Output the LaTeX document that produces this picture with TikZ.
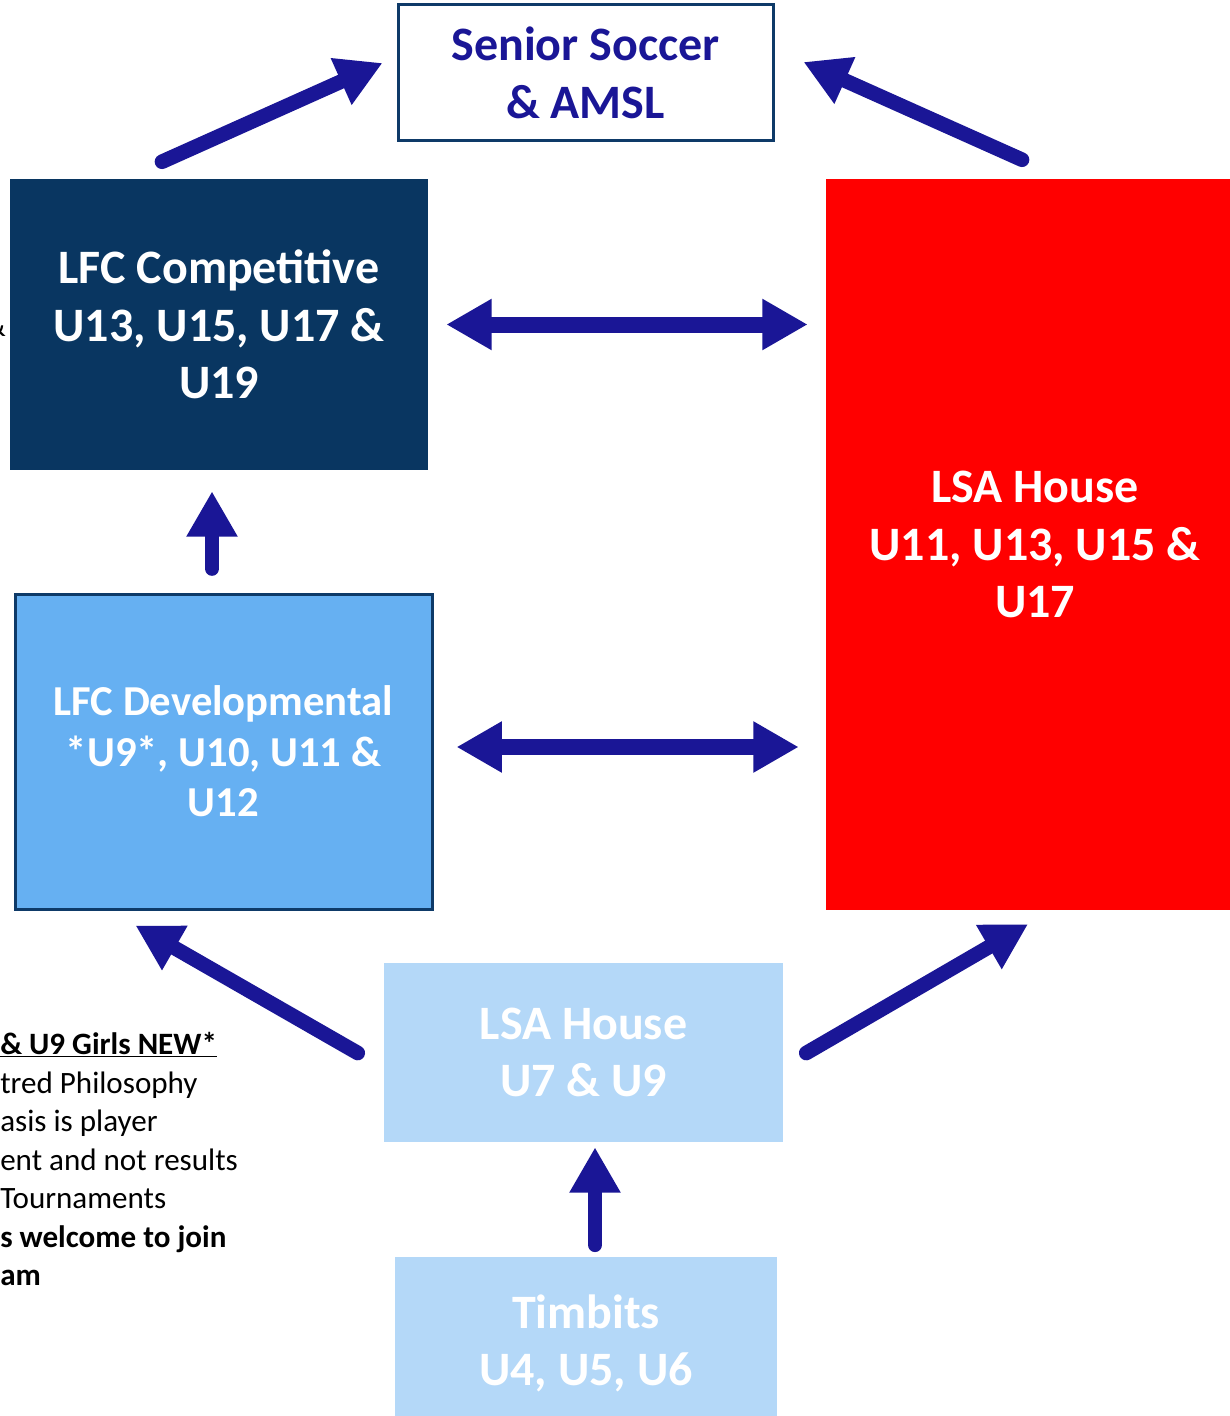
\documentclass[tikz,border=0pt]{standalone}
\usepackage{fontspec}
\setmainfont{Carlito}
\usetikzlibrary{arrows.meta,calc,positioning}
\definecolor{arrowblue}{RGB}{26,22,150}
\definecolor{navybox}{RGB}{9,54,97}
\definecolor{edgeblue}{RGB}{14,58,104}
\definecolor{devblue}{RGB}{102,176,242}
\definecolor{paleblue}{RGB}{180,216,248}
\tikzset{
    box/.style={rectangle, inner sep=0pt, align=center, text=white,
        font=\bfseries\fontsize{36}{43}\selectfont},
    onearrow/.style={arrowblue, line width=11pt, line cap=round,
        -{Triangle[length=34pt,width=36pt]}},
    twoarrow/.style={arrowblue, line width=12pt,
        {Triangle[length=34pt,width=36pt]}-{Triangle[length=34pt,width=36pt]}}
}
\begin{document}
\begin{tikzpicture}[x=0.75pt,y=-0.75pt]
\clip (0,0) rectangle (1230,1416);
\fill[white] (0,0) rectangle (1230,1416);
% boxes
\node[box, draw=edgeblue, line width=2.25pt, fill=white, text=arrowblue, minimum width=281.25pt, minimum height=102pt](senior) at (585.5,73){Senior Soccer\\ \& AMSL};
\node[box, fill=navybox, minimum width=313.5pt, minimum height=218.25pt](comp) at (219,324.5){LFC Competitive\\ U13, U15, U17 \&\\ U19};
\node[box, fill=red, minimum width=313.5pt, minimum height=548.25pt](house) at (1035,544.5){LSA House\\ U11, U13, U15 \&\\ U17};
\node[box, draw=edgeblue, line width=2.25pt, fill=devblue, minimum width=312.75pt, minimum height=236.25pt, font=\bfseries\fontsize{32}{38}\selectfont](dev) at (223.5,751.5){LFC Developmental\\ *U9*, U10, U11 \&\\ U12};
\node[box, fill=paleblue, minimum width=299.25pt, minimum height=134.25pt](small) at (583.5,1052.5){LSA House\\ U7 \& U9};
\node[box, fill=paleblue, minimum width=286.5pt, minimum height=129.75pt](timbits) at (586,1343.5){Timbits\\ U4, U5, U6};
% side notes, cut at the left edge
\node[anchor=east, inner sep=0pt, font=\fontsize{23}{29}\selectfont] (amp) at (6,326) {\&};
\node[anchor=north west, inner sep=0pt, align=left, font=\fontsize{23.3}{28.9}\selectfont] (notes) at (0,1032)
  {\underline{\textbf{\& U9 Girls NEW*}}\\ tred Philosophy\\ asis is player\\ ent and not results\\ Tournaments\\ \textbf{s welcome to join}\\ \textbf{am}};
% arrows
\draw[onearrow] ([shift={(-57,-17)}]comp.north) -- ([shift={(-14,-10)}]senior.west);
\draw[onearrow] ([shift={(-13,-19)}]house.north) -- ([shift={(29,-11)}]senior.east);
\draw[twoarrow] ([shift={(18,0)}]comp.east) -- ($(comp.east -| house.west)+(-18,0)$);
\coordinate (d1) at ([shift={(23,-4.5)}]dev.east);
\draw[twoarrow] (d1) -- ($(d1 -| house.west)+(-27,0)$);
\coordinate (u1) at ([shift={(-11.5,-24)}]dev.north);
\draw[onearrow] (u1) -- ($(u1 |- comp.south)+(0,21)$);
\draw[onearrow] ([shift={(-26,0.5)}]small.west) -- ([shift={(122,15)}]dev.south west);
\draw[onearrow] ([shift={(23,0.5)}]small.east) -- ([shift={(-7,14)}]house.south);
\coordinate (t1) at ([shift={(9,-12)}]timbits.north);
\draw[onearrow] (t1) -- ($(t1 |- small.south)+(0,5)$);
\end{tikzpicture}
\end{document}
